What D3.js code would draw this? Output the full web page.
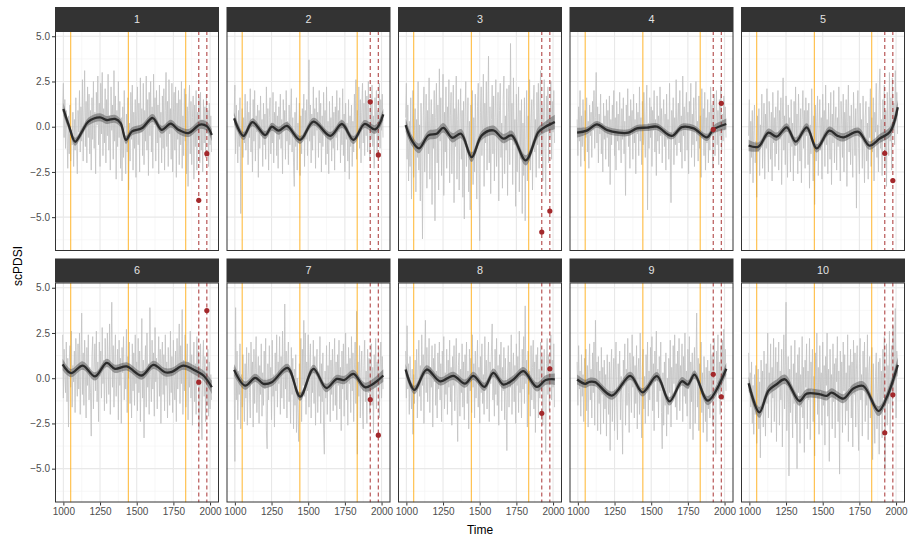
<!DOCTYPE html>
<html><head><meta charset="utf-8">
<script src="https://cdn.jsdelivr.net/npm/d3@7"></script>
<style>body{margin:0;background:#fff}svg{display:block}</style>
</head><body><svg id="c" width="911" height="538"></svg>
<script>
const panels = ["1","2","3","4","5","6","7","8","9","10"];
const seriesStart = 995, seriesStep = 5;
const s1 = [0.8,2.4,-0.6,1.5,-1.2,0.9,-0.4,-2.3,0.6,-1.5,1.2,-1.9,-0.2,-1.0,0.8,-2.2,0.4,-1.3,1.6,-0.9,
-2.6,0.9,-0.3,2.0,-1.4,1.1,-0.8,2.6,-1.9,0.7,3.1,-1.1,1.4,-2.0,2.2,-0.6,1.8,-1.5,0.9,-2.4,
1.6,-0.7,2.5,-1.2,0.8,-2.6,1.9,0.1,2.8,-1.0,1.3,-2.2,2.4,-0.4,3.0,-1.6,1.0,-0.9,2.1,-2.0,
1.5,-0.5,2.9,-1.3,0.6,-2.4,2.2,-0.2,1.2,-1.8,3.1,-0.8,1.7,-2.9,0.9,-1.1,2.5,-0.6,1.4,-2.3,
0.5,-3.0,1.1,-1.7,2.0,-0.9,-2.6,0.7,-1.4,1.6,-3.5,0.2,-1.9,1.9,-0.7,2.3,-2.4,0.8,-1.2,1.5,
-2.8,0.6,2.2,-1.0,1.3,-2.5,2.7,-0.3,1.0,-1.6,2.4,-2.1,0.9,-0.8,2.8,-1.3,1.5,-2.7,1.9,-0.5,
2.5,-1.4,1.1,-2.3,2.9,0.1,1.6,-1.9,2.0,-0.9,1.2,-2.6,2.3,-0.6,0.8,-2.0,1.7,-1.2,2.1,-2.4,
0.9,3.0,-1.1,1.4,-2.2,2.6,-0.4,1.0,-1.8,2.4,-2.5,0.7,1.9,-1.3,2.2,-2.8,1.3,-0.7,2.0,-2.1,
1.5,-1.0,2.5,-2.3,0.6,-1.6,2.1,-0.8,1.8,-2.6,1.1,-3.3,0.9,2.3,-1.5,1.4,-2.1,0.5,1.7,-2.9,
1.2,-1.1,2.0,-2.4,0.8,-0.6,1.6,-2.0,1.9,-1.3,0.4,-2.5,1.5,-0.9,1.1,-1.7,1.8,-0.4,0.9,-2.2,1.3,-1.0,0.6,-1.4];
const s2 = [0.6,2.3,-1.5,1.2,-0.4,-2.0,0.9,-1.1,1.6,-4.8,-0.2,1.0,-1.7,0.5,-0.9,1.8,-1.3,0.2,1.4,-2.1,
0.8,-0.6,2.1,-1.4,0.3,-2.5,1.5,-0.8,2.0,-1.9,0.6,-0.3,1.2,-2.8,0.9,-1.2,1.7,-0.5,0.4,-2.2,
1.3,-1.0,0.7,-1.8,2.2,-0.4,1.0,-2.4,0.5,1.6,-1.5,0.2,-0.9,1.9,-2.0,0.8,-0.3,1.4,-1.6,0.6,
-2.3,1.1,-0.7,1.8,-1.2,0.4,-2.6,1.5,-0.2,0.9,-1.8,2.0,-0.8,0.3,-2.1,1.2,-1.0,0.7,2.1,-1.4,
0.5,-2.0,-3.3,0.8,-1.1,1.6,-2.4,0.2,-0.9,1.3,-2.7,0.6,-1.5,1.0,-0.4,1.8,-2.2,0.9,-0.7,1.5,
-1.6,0.4,3.7,-0.8,1.2,-2.0,0.7,-1.3,2.2,-0.5,1.0,-2.3,1.6,-0.2,0.8,-1.7,2.0,-0.9,1.3,-2.5,
0.6,-1.1,1.9,-0.4,0.9,-2.1,2.2,-1.5,0.3,-2.6,1.4,-0.8,0.5,-1.9,1.7,-1.2,0.8,-2.4,1.1,-0.6,
2.0,-1.3,0.9,-0.3,1.6,-2.0,0.4,-1.0,2.1,-1.6,0.7,-2.5,1.3,-0.7,0.2,-1.9,1.5,-2.9,0.6,-1.1,
1.2,-2.2,0.3,-1.4,1.8,-0.6,2.6,-1.8,0.9,-0.4,2.2,-1.2,1.5,-2.0,0.8,2.4,-0.9,1.3,-1.6,2.0,
-0.5,1.7,-1.4,2.5,0.2,-1.9,1.2,-0.7,2.3,-1.1,0.6,-2.3,1.6,-0.3,2.0,-1.6,0.9,-0.8,2.4,-1.2,1.5,-0.2,1.8,-0.6];
const s3 = [0.5,2.4,-1.8,1.2,-3.0,0.3,-2.2,1.6,-4.0,-0.6,2.0,-2.8,-0.2,1.0,-3.6,0.4,-1.7,2.5,-2.4,0.1,
-4.1,1.3,-0.9,-6.2,0.6,2.2,-2.5,-0.3,1.8,-3.4,0.9,-1.5,2.7,-2.9,0.0,1.5,-4.3,0.7,-1.2,2.0,
-5.2,0.5,2.4,-2.0,1.2,-3.5,3.2,-0.8,1.6,-2.7,0.3,2.9,-3.8,0.8,-1.4,2.2,-2.3,1.1,-0.5,2.6,
-3.1,0.6,1.9,-2.6,-0.2,2.3,-4.2,1.0,-1.1,2.8,-2.9,0.4,1.5,-3.5,0.2,2.1,-1.8,0.9,-3.9,1.4,
-5.1,0.7,2.5,-2.2,-0.4,1.6,-3.6,0.3,-4.6,1.2,-1.9,2.0,-3.2,0.5,-2.5,1.8,-0.6,-4.0,1.1,2.4,
-2.6,-6.3,0.8,2.2,-1.6,0.2,2.9,-3.3,1.3,-0.9,2.5,-2.4,0.6,3.9,-2.0,1.1,-3.7,0.4,2.3,-1.5,
1.7,-3.0,0.5,2.6,-2.2,-0.3,1.9,-4.1,0.9,2.4,-1.7,0.2,-3.4,1.5,2.8,-2.6,0.6,-1.3,2.1,-3.8,
0.8,2.3,-2.1,4.6,-0.5,1.3,-3.2,2.7,-1.0,0.4,-4.4,1.8,-2.5,0.3,2.2,-3.6,0.9,-1.8,1.5,-4.8,
0.2,-2.7,1.6,-5.2,-0.7,2.0,-3.0,0.6,-1.9,2.6,-2.4,0.3,1.5,-3.5,0.9,2.3,-1.4,0.4,-2.8,1.9,
-1.0,2.4,-2.3,0.8,3.1,-1.6,1.2,-3.0,0.5,2.6,-1.2,-3.8,1.7,0.2,2.2,-2.0,1.0,-0.6,2.5,-1.8,1.4,-0.3,2.0,-0.9];
const s4 = [0.4,-1.6,1.1,-0.8,2.0,-2.2,0.6,-1.1,1.5,-0.3,-1.9,0.9,-0.6,1.6,-1.4,0.3,-2.3,1.2,-0.5,0.8,
-1.7,1.4,-0.2,2.0,-1.2,0.5,3.0,-0.9,1.1,-2.0,0.7,-0.4,1.8,-1.5,0.2,-2.5,1.3,-0.7,0.6,-1.8,
1.5,-0.6,0.9,-2.2,1.7,-3.2,0.4,-1.0,1.2,-0.3,2.0,-1.6,0.5,-2.4,1.4,-0.8,0.7,-1.3,1.9,-0.4,
-2.0,1.0,-0.7,1.6,-1.5,0.3,-3.8,1.2,-0.5,2.1,-1.1,0.6,-2.3,1.5,-0.2,0.9,-1.8,1.8,-0.9,0.4,
-2.6,1.3,-0.4,0.8,-1.6,2.2,-0.8,0.5,-2.1,1.4,-1.0,1.9,-0.3,-1.7,0.7,2.3,-4.6,0.2,-1.2,1.6,
-0.6,1.1,-2.2,0.9,-0.2,2.0,-1.4,0.4,-2.7,1.7,-0.8,0.6,-1.5,2.2,-0.5,1.0,-2.0,0.3,1.5,-1.1,
0.7,-2.4,1.8,-0.7,0.4,-1.8,2.4,-1.2,-4.2,0.9,-0.3,1.6,-2.1,0.5,-1.0,2.6,-1.6,0.2,1.3,-0.9,
2.0,-1.4,0.6,-2.3,2.8,-0.5,1.1,-1.9,0.4,1.9,-1.3,0.8,-2.6,1.4,-0.2,2.4,-1.7,0.7,-1.0,1.6,
-2.2,0.9,2.5,-0.8,0.3,-1.9,1.7,-1.2,0.6,-2.8,2.1,-0.6,1.0,-1.6,1.9,-2.4,0.5,-0.9,1.5,-2.0,
0.8,-1.3,2.2,-0.4,1.2,-2.3,0.6,1.8,-1.6,0.3,2.0,-1.0,0.9,-2.1,1.5,-0.5,2.3,-1.4,0.7,-0.8,1.7,-0.2,1.1,-0.6];
const s5 = [-0.5,1.5,-2.6,0.3,-1.7,0.9,-3.1,-0.2,1.2,-2.0,-0.8,-3.9,0.6,-1.4,1.0,-2.7,0.1,-1.0,1.8,-2.3,
-0.4,1.3,-2.9,0.7,-1.2,2.1,-0.6,-2.5,1.4,0.2,-1.8,0.8,-3.0,1.9,-0.9,0.5,-2.2,1.1,-1.5,0.3,
2.0,-2.4,0.9,-0.7,1.6,-3.2,0.4,2.7,-1.3,0.6,-2.1,1.7,-0.3,-2.8,1.2,-0.9,0.5,-2.5,1.5,-1.1,
0.2,-3.0,1.4,-1.6,2.2,-0.6,0.7,-2.6,1.8,-0.2,-1.9,1.0,-3.1,0.4,2.0,-1.2,0.9,-2.3,1.6,-0.5,
0.9,-2.1,1.3,-3.4,0.1,-1.5,2.1,-0.8,-3.0,0.6,-4.3,1.2,-1.9,0.3,1.7,-2.7,-0.4,1.5,-1.3,0.5,
-2.9,1.8,-0.6,0.9,-2.2,2.3,-1.0,0.4,-2.6,1.3,-0.3,-1.8,1.9,-3.2,0.7,-0.9,2.0,-2.0,0.2,1.1,
-2.4,0.5,-1.1,2.2,-0.7,-3.0,1.4,0.1,-1.7,1.8,-2.5,0.8,-0.4,1.5,-3.3,0.3,2.3,-1.4,0.6,-2.1,
1.2,-0.8,-2.8,1.9,0.0,-1.6,1.0,-4.5,0.7,2.0,-1.2,-2.6,1.3,-0.5,0.4,-2.3,1.7,-1.0,-3.1,0.6,
1.4,-1.9,0.2,-2.9,1.1,-0.6,2.1,-2.2,0.5,-1.4,1.6,-3.0,0.8,-0.3,2.4,-1.7,0.1,-2.5,1.8,3.2,
-1.2,0.4,-2.7,1.5,-0.5,2.3,-2.1,0.9,-3.3,1.9,0.1,-1.6,3.0,-0.8,1.6,-2.4,2.7,-0.2,1.3,-1.0,3.1,0.3,1.9,-0.4];
const s6 = [2.4,-1.1,1.6,0.2,-0.8,2.0,-1.3,1.1,-2.7,0.9,1.8,-0.5,2.6,-1.6,0.7,-0.2,1.5,-1.9,2.2,0.4,
-1.0,1.9,-0.6,2.5,-2.0,0.8,3.6,-0.9,1.4,-1.5,2.1,0.3,-2.2,1.7,-0.4,2.4,-1.2,0.6,-0.8,-3.2,
1.2,2.3,-1.7,0.5,1.9,-0.7,2.6,-1.3,0.9,-2.4,2.0,0.1,1.5,-1.1,2.8,-0.3,1.0,-1.8,2.2,0.4,
-1.4,2.5,0.6,-0.9,3.0,-2.0,1.3,4.2,-0.5,1.8,-1.6,0.7,2.4,-1.0,0.2,1.6,-2.3,2.1,-0.4,1.1,
-2.5,1.7,0.3,2.3,-1.2,0.8,-0.6,2.7,-1.9,1.2,0.0,2.0,-1.4,0.5,-2.2,1.9,-0.7,1.4,-1.5,2.4,
-0.3,0.9,-1.8,2.2,-0.8,1.5,-2.4,0.6,3.3,-1.1,1.0,-3.3,0.4,1.8,-1.6,2.5,-0.5,0.8,-2.0,3.9,
0.2,-1.3,2.1,-0.6,1.4,-2.1,2.8,-0.2,1.1,-1.7,0.5,2.3,-1.0,1.6,-2.5,0.8,2.0,-0.9,1.3,-1.8,
2.4,-0.4,0.9,-2.2,1.7,0.3,-1.5,2.6,-0.8,1.2,-1.9,2.1,0.1,-1.2,1.5,-2.4,2.2,-0.6,0.7,3.0,
-1.4,1.8,-0.3,3.8,-2.0,1.0,-0.7,2.4,-1.6,0.6,1.9,-2.3,0.9,-0.5,2.6,-1.1,1.3,-2.6,0.4,2.0,
-1.3,0.8,-2.0,2.3,-0.4,1.5,-2.8,0.3,1.9,-1.6,-3.4,0.7,2.1,-1.0,1.2,-2.4,0.5,-1.5,1.6,-2.1,0.9,-1.7,0.2,-1.2];
const s7 = [0.6,-4.6,3.9,-1.2,1.5,-2.3,0.4,-0.9,1.9,-2.8,0.2,-1.6,1.3,-0.5,-2.4,0.8,-1.1,1.7,-2.6,0.1,
1.4,-0.8,-2.2,2.0,-0.3,0.9,-2.7,1.6,-1.4,0.5,2.3,-1.9,-0.2,1.2,-2.5,0.7,-0.9,1.9,-2.1,0.3,
-1.5,1.5,-0.6,2.2,-2.9,-3.9,0.8,-1.2,1.8,-0.4,0.6,-2.3,2.1,-1.0,0.2,-2.7,1.4,-0.7,2.4,-1.6,
0.9,-0.3,2.3,-2.0,1.2,-1.1,2.6,0.1,-1.7,4.1,-0.6,1.5,-2.2,0.7,2.0,-1.3,0.4,-2.5,1.7,-0.9,
1.1,-2.8,0.5,-1.5,1.3,-3.0,0.0,-1.9,-3.5,0.8,-1.2,2.2,-2.4,1.6,-0.4,3.2,-1.0,2.5,-2.0,0.9,
-0.7,2.4,-1.6,0.6,1.9,-2.2,0.3,-0.8,2.1,-1.4,1.2,-2.6,0.5,1.6,-1.9,0.2,-1.0,2.3,-2.5,0.8,
-1.3,1.4,-2.8,-4.2,0.4,-1.1,1.8,-2.0,0.7,-0.5,2.0,-2.4,1.0,-0.9,1.6,-1.8,0.3,2.2,-1.5,0.9,
-2.3,1.3,-0.4,2.1,-1.7,0.6,-2.9,1.5,-0.6,1.9,-2.1,0.2,2.5,-1.2,0.8,-2.6,1.7,-0.3,1.1,-1.9,
2.3,-0.7,1.4,-2.4,0.5,2.0,-1.4,3.7,-4.2,0.9,-1.0,1.8,-2.2,0.3,1.5,-1.6,-2.8,0.7,2.1,-1.3,
0.4,-2.5,1.6,-0.8,1.1,-2.0,0.2,1.9,-1.5,0.6,-3.0,1.3,-0.5,2.2,-1.7,0.9,-0.4,1.7,-2.2,0.5,2.0,-1.1,1.2,-0.6];
const s8 = [1.5,-1.1,2.9,-0.6,0.8,-2.0,1.2,-0.3,-1.7,0.5,-3.1,0.2,-1.4,1.0,-0.7,1.6,-2.2,0.4,2.1,-1.0,
0.7,-1.8,2.4,-0.4,1.3,-2.5,0.9,3.2,-0.8,1.7,-1.3,0.2,2.2,-1.9,0.6,-0.5,1.8,-2.7,1.1,-0.2,
1.9,-1.5,0.4,-2.2,1.4,-0.6,2.0,-1.2,0.8,-2.4,1.5,-0.1,2.3,-1.7,0.3,-0.9,1.6,-2.0,1.0,-0.5,
2.1,-1.3,0.6,-2.6,1.2,-0.4,1.8,-1.8,0.2,2.2,-1.0,-3.5,0.7,1.4,-2.1,0.5,-0.8,1.9,-1.6,0.9,
-2.3,1.3,-0.3,2.0,-1.4,0.4,-2.8,1.6,-0.7,1.1,-1.9,2.4,-0.5,0.8,-2.2,1.5,-1.1,0.3,2.1,-1.6,
0.6,-2.5,1.2,-0.8,1.9,-1.4,0.2,-2.0,2.3,-0.6,1.0,-1.7,0.5,2.0,-2.4,0.9,-0.3,1.5,3.0,-1.2,
0.4,-2.1,1.6,-0.9,2.2,-1.5,0.7,-2.6,1.3,-0.2,2.0,-1.8,0.6,-0.7,1.7,-2.3,1.1,-1.2,-4.0,0.3,
1.8,-1.6,0.9,-0.5,2.4,-2.0,0.2,1.4,-1.3,0.7,-2.5,1.9,-0.4,1.2,-1.9,2.6,-0.8,0.5,-2.2,1.6,
-0.6,2.3,-1.4,4.0,-0.3,1.0,-2.7,1.5,-0.9,0.4,-2.1,1.8,-1.2,0.6,2.1,-1.7,0.9,-3.0,1.3,-0.4,
1.7,-2.2,0.5,-1.1,2.0,-0.7,1.2,-2.6,0.3,1.6,-1.5,-4.1,0.8,2.2,-0.9,1.3,-1.8,0.4,2.4,-1.2,1.0,-0.5,1.9,-1.6];
const s9 = [0.9,-1.5,1.8,-0.6,0.4,-2.1,1.3,-1.0,0.2,-2.4,1.1,-0.4,1.6,-1.8,0.7,-2.7,0.3,1.9,-1.2,0.5,
-2.2,1.4,-0.8,2.0,-2.6,3.2,-0.3,0.9,-2.9,1.2,-1.4,0.4,-3.1,1.7,-0.9,0.6,-2.5,1.0,-1.7,0.2,
-3.2,1.3,-0.6,-2.0,0.9,-4.0,0.3,1.6,-2.4,-0.5,1.1,-2.9,0.4,2.0,-1.6,-3.4,0.8,-0.7,1.5,-2.3,
0.1,-1.2,-4.2,1.0,-0.4,1.9,-2.6,0.5,-1.5,2.2,-0.8,-3.0,1.4,0.2,-1.9,2.4,-0.5,1.2,-2.2,0.7,
-1.4,1.8,-2.8,0.3,1.1,-2.0,2.5,-0.9,-3.3,0.6,1.6,-1.7,0.1,-2.5,1.3,-0.6,2.0,-2.1,0.4,-1.2,
1.7,-0.4,2.3,-1.8,0.8,-2.9,1.5,-0.2,2.6,-1.3,0.5,-2.2,1.2,-0.7,2.0,-1.9,-3.9,0.3,-2.6,0.9,
-1.5,1.4,-3.2,0.0,-2.0,1.1,-0.8,2.1,-2.7,0.6,-1.1,1.8,-0.3,2.4,-1.6,0.8,-2.3,1.5,-0.5,2.2,
-1.8,0.7,-0.2,1.9,-2.4,1.2,-1.0,2.5,-1.4,0.4,-2.1,1.6,-0.6,2.3,-2.8,0.9,-1.3,1.4,-3.4,0.2,
1.7,-2.5,0.5,3.6,-1.6,1.1,-2.9,0.8,-0.9,2.0,-1.9,0.3,-3.0,1.2,-0.4,-2.4,0.6,-3.5,1.0,-1.7,
0.4,-2.2,1.9,-0.8,1.3,-2.6,0.7,2.2,-1.5,-4.2,1.5,-0.3,2.4,-1.1,0.9,-2.0,1.8,-0.5,2.1,-1.2,2.7,0.2,1.6,-0.7];
const s10 = [1.4,-0.8,0.3,-1.6,0.9,-2.5,-0.4,-3.1,0.2,-2.0,0.7,-3.6,-1.1,0.5,-2.8,-0.2,-4.4,1.0,-1.5,0.4,
-2.7,1.5,-0.9,-3.2,0.8,-1.4,2.5,-2.2,0.3,-0.6,1.9,-3.0,0.6,-1.1,2.2,-2.4,-0.3,1.7,-3.5,0.9,
-0.5,2.0,-2.6,0.4,-1.2,1.6,-3.8,0.1,2.4,-1.7,0.7,4.2,-2.9,-0.7,1.2,-5.4,0.5,-1.9,1.8,-0.9,
-3.3,0.8,-1.4,2.1,-2.5,0.3,-5.0,1.3,-0.8,1.7,-3.6,0.2,-1.6,2.3,-2.2,0.6,-4.1,1.0,-0.5,1.9,
-2.8,0.4,-1.2,2.2,-3.4,0.9,-0.6,1.6,-2.4,0.1,-4.3,1.4,-1.0,2.5,-2.0,0.6,-3.1,1.8,-0.7,0.3,
-2.6,2.0,-1.5,0.7,-3.7,1.2,-0.4,2.5,-2.1,0.5,-4.6,1.6,-0.9,0.2,-2.8,1.9,-1.3,0.8,-3.3,1.1,
-0.2,2.3,-2.4,0.4,-5.3,1.5,-1.1,0.9,-3.0,2.0,-0.7,1.3,-2.6,0.3,-1.8,2.4,-3.5,0.7,-0.5,1.6,
-2.2,0.9,-3.8,2.1,-0.9,1.4,-2.7,0.5,1.8,-1.6,-4.0,0.8,2.2,-1.2,0.2,-3.2,1.5,-0.6,2.0,-2.4,
0.6,-1.5,2.4,-3.4,0.3,1.2,-2.2,-0.4,1.7,-4.5,0.8,-1.9,-3.6,0.1,1.4,-2.8,-0.8,0.9,-4.2,1.1,
-2.0,0.4,-3.3,1.6,-1.1,2.3,-5.1,-0.5,1.9,-2.6,0.7,-1.4,2.6,-3.0,0.3,1.8,-1.7,2.9,-0.9,1.2,3.85,-2.2,1.5,0.1];
const series = [s1,s2,s3,s4,s5,s6,s7,s8,s9,s10];

// smooth fit: [year, value, half-width of band]
const smooth1 = [[1000,0.98,.35],[1040,0.0,.24],[1080,-0.83,.22],[1125,-0.3,.22],[1170,0.28,.22],[1250,0.52,.22],[1295,0.37,.22],[1352,0.43,.22],[1390,0.2,.22],[1427,-0.73,.22],[1466,-0.27,.22],[1534,-0.09,.22],[1609,0.48,.22],[1670,-0.17,.22],[1732,0.17,.22],[1784,-0.17,.22],[1852,-0.35,.22],[1932,0.12,.24],[1977,0.03,.26],[2012,-0.46,.34]];
const smooth2 = [[995,0.46,.32],[1059,-0.51,.22],[1120,0.25,.22],[1207,-0.46,.22],[1252,0.0,.22],[1298,-0.22,.22],[1355,0.04,.22],[1445,-0.73,.22],[1536,0.28,.22],[1650,-0.51,.22],[1730,0.15,.22],[1809,-0.73,.22],[1884,0.15,.22],[1957,-0.15,.24],[2012,0.68,.32]];
const smooth3 = [[995,0.09,.38],[1040,-0.8,.3],[1086,-1.2,.27],[1150,-0.48,.26],[1207,-0.39,.26],[1252,-0.06,.26],[1314,-0.61,.26],[1373,-0.39,.26],[1445,-1.68,.27],[1514,-0.48,.26],[1593,-0.2,.26],[1661,-0.66,.26],[1718,-0.48,.26],[1814,-1.86,.28],[1900,-0.3,.28],[1945,-0.02,.3],[2012,0.26,.4]];
const smooth4 = [[995,-0.33,.27],[1061,-0.22,.2],[1130,0.13,.19],[1198,-0.18,.19],[1277,-0.33,.19],[1345,-0.33,.19],[1402,-0.09,.19],[1470,-0.05,.19],[1539,0.0,.19],[1641,-0.51,.19],[1709,-0.02,.19],[1789,-0.09,.19],[1880,-0.59,.2],[1925,-0.15,.22],[2012,0.15,.3]];
const smooth5 = [[995,-1.04,.32],[1061,-1.11,.24],[1130,-0.33,.23],[1186,-0.55,.23],[1255,-0.04,.23],[1316,-0.83,.23],[1391,-0.04,.23],[1459,-1.2,.23],[1545,-0.22,.23],[1600,-0.5,.23],[1641,-0.59,.23],[1743,-0.28,.23],[1818,-1.04,.23],[1891,-0.64,.25],[1959,-0.28,.28],[2012,1.08,.4]];
const smooth6 = [[995,0.76,.32],[1052,0.28,.23],[1132,0.7,.23],[1216,0.1,.23],[1295,0.85,.23],[1352,0.52,.23],[1432,0.65,.23],[1534,0.15,.23],[1614,0.74,.23],[1693,0.33,.23],[1740,0.35,.23],[1818,0.7,.23],[1898,0.43,.25],[1955,0.15,.28],[2012,-0.5,.37]];
const smooth7 = [[995,0.46,.32],[1070,-0.41,.23],[1139,0.02,.23],[1195,-0.31,.23],[1252,-0.22,.23],[1359,0.57,.23],[1445,-1.02,.23],[1536,0.52,.23],[1623,-0.54,.23],[1695,-0.04,.23],[1745,-0.1,.23],[1809,0.24,.23],[1889,-0.5,.25],[2012,0.15,.34]];
const smooth8 = [[995,0.48,.32],[1055,-0.65,.23],[1139,0.48,.23],[1230,-0.17,.23],[1320,0.13,.23],[1400,-0.3,.23],[1457,0.13,.23],[1532,-0.48,.23],[1593,0.3,.23],[1661,-0.35,.23],[1730,-0.07,.23],[1798,0.39,.23],[1889,-0.48,.25],[1950,-0.1,.27],[2012,-0.06,.32]];
const smooth9 = [[995,-0.07,.28],[1050,-0.31,.23],[1080,-0.2,.23],[1118,-0.22,.23],[1232,-0.96,.23],[1357,0.13,.23],[1441,-0.78,.23],[1539,0.11,.23],[1625,-1.28,.23],[1709,-0.17,.23],[1750,-0.35,.23],[1795,0.2,.23],[1886,-1.24,.25],[2012,0.52,.34]];
const smooth10 = [[995,-0.28,.38],[1068,-1.89,.3],[1130,-0.69,.27],[1186,-0.33,.26],[1243,-0.06,.26],[1341,-1.26,.26],[1391,-0.85,.25],[1482,-0.89,.25],[1527,-0.98,.25],[1561,-0.8,.25],[1641,-1.13,.25],[1709,-0.57,.25],[1777,-0.43,.25],[1880,-1.82,.27],[1936,-1.07,.3],[2012,0.74,.4]];
const smooths = [smooth1,smooth2,smooth3,smooth4,smooth5,smooth6,smooth7,smooth8,smooth9,smooth10];

const orangeYears = [1050, 1443, 1834];
const dashedYears = [1923, 1978];
const pointValues = [[-4.07,-1.49],[1.38,-1.56],[-5.82,-4.66],[-0.15,1.29],[-1.47,-2.98],
                     [-0.22,3.74],[-1.18,-3.15],[-1.94,0.52],[0.22,-1.03],[-3.02,-0.92]];
const xTicks = [1000,1250,1500,1750,2000];
const xMinor = [1125,1375,1625,1875];
const yTicks = [-5,-2.5,0,2.5,5];
const yMinor = [-6.25,-3.75,-1.25,1.25,3.75];
const xTitle = "Time", yTitle = "scPDSI";

const font = "'Liberation Sans', Arial, Helvetica, sans-serif";
const svg = d3.select("#c");
const left0 = 55, pw = 164, pitchX = 171.5;
const top0 = 7, stripH = 24, ph = 220, pitchY = 251.5;
const x = d3.scaleLinear().domain([943, 2061]).range([0, pw]);
const y = d3.scaleLinear().domain([-6.87, 5.29]).range([ph, 0]);
const yFmt = d3.format(".1f");

const defs = svg.append("defs");
defs.append("clipPath").attr("id","clip").append("rect").attr("width",pw).attr("height",ph);

panels.forEach((name, p) => {
  const col = p % 5, row = Math.floor(p / 5);
  const px = left0 + col * pitchX, sy = top0 + row * pitchY, py = sy + stripH;
  const g = svg.append("g").attr("transform", `translate(${px},${py})`);
  // grid
  g.selectAll(".xmin").data(xMinor).join("line").attr("x1",d=>x(d)).attr("x2",d=>x(d)).attr("y1",0).attr("y2",ph).attr("stroke","#f3f3f3").attr("stroke-width",0.6);
  g.selectAll(".ymin").data(yMinor).join("line").attr("y1",d=>y(d)).attr("y2",d=>y(d)).attr("x1",0).attr("x2",pw).attr("stroke","#f3f3f3").attr("stroke-width",0.6);
  g.selectAll(".xmaj").data(xTicks).join("line").attr("x1",d=>x(d)).attr("x2",d=>x(d)).attr("y1",0).attr("y2",ph).attr("stroke","#e8e8e8").attr("stroke-width",1.1);
  g.selectAll(".ymaj").data(yTicks).join("line").attr("y1",d=>y(d)).attr("y2",d=>y(d)).attr("x1",0).attr("x2",pw).attr("stroke","#e8e8e8").attr("stroke-width",1.1);

  const inner = g.append("g").attr("clip-path","url(#clip)");
  const data = series[p].map((v,i) => [seriesStart + i*seriesStep, v]);
  inner.append("path").datum(data)
    .attr("d", d3.line().x(d=>x(d[0])).y(d=>y(d[1])))
    .attr("fill","none").attr("stroke","#c2c2c2").attr("stroke-opacity",0.8).attr("stroke-width",1);

  inner.selectAll(".ov").data(orangeYears).join("line")
    .attr("x1",d=>x(d)).attr("x2",d=>x(d)).attr("y1",0).attr("y2",ph)
    .attr("stroke","#ffa500").attr("stroke-opacity",0.75).attr("stroke-width",1.1);
  inner.selectAll(".dv").data(dashedYears).join("line")
    .attr("x1",d=>x(d)).attr("x2",d=>x(d)).attr("y1",0).attr("y2",ph)
    .attr("stroke","#a52a2a").attr("stroke-opacity",0.8).attr("stroke-width",1.2).attr("stroke-dasharray","4,3");

  const sm = smooths[p];
  const curve = d3.curveCatmullRom.alpha(0.5);
  inner.append("path").datum(sm)
    .attr("d", d3.area().x(d=>x(d[0])).y0(d=>y(d[1]-d[2])).y1(d=>y(d[1]+d[2])).curve(curve))
    .attr("fill","#555").attr("fill-opacity",0.5);
  inner.append("path").datum(sm)
    .attr("d", d3.line().x(d=>x(d[0])).y(d=>y(d[1])).curve(curve))
    .attr("fill","none").attr("stroke","#2b2b2b").attr("stroke-width",2.3);

  inner.selectAll(".pt").data(dashedYears.map((yr,j)=>[yr, pointValues[p][j]])).join("circle")
    .attr("cx",d=>x(d[0])).attr("cy",d=>y(d[1])).attr("r",2.6).attr("fill","#a3282b");

  // border
  g.append("rect").attr("x",0.5).attr("y",0.5).attr("width",pw-1).attr("height",ph-1)
    .attr("fill","none").attr("stroke","#333").attr("stroke-width",1);
  // strip
  svg.append("rect").attr("x",px).attr("y",sy).attr("width",pw).attr("height",stripH).attr("fill","#333333");
  svg.append("text").attr("x",px+pw/2).attr("y",sy+stripH/2).attr("dy","0.36em")
    .attr("text-anchor","middle").attr("font-family",font).attr("font-size",10.8).attr("fill","#e3e3e3").text(name);

  if (col === 0) {
    const ya = g.append("g").call(d3.axisLeft(y).tickValues(yTicks).tickFormat(yFmt).tickSize(3).tickPadding(2));
    ya.select(".domain").remove();
    ya.selectAll("line").attr("stroke","#333");
    ya.selectAll("text").attr("font-family",font).attr("font-size",10).attr("fill","#4d4d4d");
  }
  if (row === 1) {
    const xa = g.append("g").attr("transform",`translate(0,${ph})`)
      .call(d3.axisBottom(x).tickValues(xTicks).tickFormat(d3.format("d")).tickSize(3).tickPadding(2));
    xa.select(".domain").remove();
    xa.selectAll("line").attr("stroke","#333");
    xa.selectAll("text").attr("font-family",font).attr("font-size",10).attr("fill","#4d4d4d");
  }
});

svg.append("text").attr("x", left0 + (4*pitchX + pw)/2).attr("y", 534)
  .attr("text-anchor","middle").attr("font-family",font).attr("font-size",12).attr("fill","#000").text(xTitle);
svg.append("text").attr("transform","translate(22,266) rotate(-90)")
  .attr("text-anchor","middle").attr("font-family",font).attr("font-size",12).attr("fill","#000").text(yTitle);
</script></body></html>
